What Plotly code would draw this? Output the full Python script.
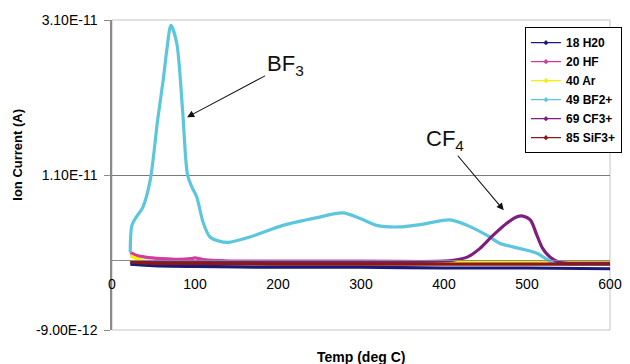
import plotly.graph_objects as go

# ---------------- data (ion current in units of 1e-11 A) ----------------
UNIT = 1e-11

temp_h2o = [22, 50, 100, 200, 300, 400, 500, 600]
h2o = [-0.05, -0.07, -0.08, -0.09, -0.09, -0.10, -0.10, -0.11]

temp_hf = [22, 30, 40, 60, 80, 95, 100, 110, 150, 200, 300, 400, 500, 600]
hf = [0.10, 0.06, 0.04, 0.02, 0.01, 0.02, 0.03, 0.01, -0.01, -0.01, -0.01, -0.02, -0.02, -0.02]

temp_ar = [22, 28, 35, 45, 60, 100, 200, 300, 400, 500, 600]
ar = [0.06, 0.03, 0.00, -0.02, -0.03, -0.03, -0.03, -0.03, -0.03, -0.03, -0.03]

temp_bf2 = [22, 24, 30, 37, 46, 55, 62, 66, 71, 78, 85, 91, 96, 102, 110, 118, 128, 140,
            166, 206, 247, 278, 299, 319, 347, 371, 407, 428, 452, 467, 492, 512, 531,
            550, 575, 600]
bf2 = [0.10, 0.45, 0.57, 0.68, 1.03, 1.81, 2.35, 2.71, 3.03, 2.80, 1.94, 1.10, 0.95, 0.82,
       0.48, 0.30, 0.25, 0.23, 0.30, 0.45, 0.55, 0.61, 0.54, 0.45, 0.43, 0.46, 0.52, 0.45,
       0.32, 0.22, 0.15, 0.09, -0.03, -0.05, -0.05, -0.05]

temp_cf3 = [22, 100, 200, 300, 400, 411, 428, 443, 459, 476, 488, 495, 504, 512, 519, 528,
            540, 570, 600]
cf3 = [-0.02, -0.02, -0.02, -0.02, -0.01, 0.00, 0.04, 0.15, 0.32, 0.48, 0.56, 0.57, 0.52,
       0.32, 0.15, 0.04, -0.03, -0.04, -0.04]

temp_sif3 = [22, 50, 100, 200, 300, 400, 500, 600]
sif3 = [-0.02, -0.04, -0.04, -0.05, -0.05, -0.05, -0.05, -0.05]

series_names = ["18 H20", "20 HF", "40 Ar", "49 BF2+", "69 CF3+", "85 SiF3+"]
series_x = [temp_h2o, temp_hf, temp_ar, temp_bf2, temp_cf3, temp_sif3]
series_y = [h2o, hf, ar, bf2, cf3, sif3]
series_colors = ["#1c1c78", "#d23c9c", "#f5f000", "#5cc6dc", "#7d1f80", "#8a1818"]

y_tickvals = [-0.9, 1.1, 3.1]
y_ticktext = ["-9.00E-12", "1.10E-11", "3.10E-11"]
x_tickvals = [0, 100, 200, 300, 400, 500, 600]

FONT = "Liberation Sans, Arial, sans-serif"

fig = go.Figure()
for name, xs, ys, col in zip(series_names, series_x, series_y, series_colors):
    fig.add_trace(go.Scatter(
        x=xs, y=[v * UNIT for v in ys], mode="lines", name=name,
        line=dict(color=col, width=3.2, shape="spline", smoothing=0.8),
        showlegend=False, hoverinfo="skip"))
# legend-only entries (thin line + small marker like the original)
for name, col in zip(series_names, series_colors):
    fig.add_trace(go.Scatter(
        x=[None], y=[None], mode="lines+markers", name=name,
        line=dict(color=col, width=1.2),
        marker=dict(color=col, size=4, symbol="diamond")))

# page body has an 8px margin, so the figure is 8px smaller than the window
fig.update_layout(
    width=622, height=356,
    margin=dict(l=104, r=20, t=12, b=34, autoexpand=False),
    paper_bgcolor="white", plot_bgcolor="white",
    font=dict(family=FONT, color="#000"),
    showlegend=True,
    legend=dict(x=1.024, xanchor="right", y=0.977, yanchor="top",
                bgcolor="white", bordercolor="#000", borderwidth=1,
                font=dict(family=FONT, size=12, color="#000", weight="bold"),
                tracegroupgap=0, itemwidth=30),
    xaxis=dict(range=[0, 600], tickvals=x_tickvals, showgrid=False, zeroline=False,
               anchor="free", position=0.225, showline=True, linecolor="#8a8a8a",
               linewidth=1, ticks="", ticklabelstandoff=11, automargin=False,
               tickfont=dict(family=FONT, size=14, color="#000")),
    yaxis=dict(range=[-0.9 * UNIT, 3.1 * UNIT], tickvals=[v * UNIT for v in y_tickvals],
               ticktext=y_ticktext, showgrid=True, gridcolor="#7a7a7a", gridwidth=1.3,
               zeroline=False, showline=True, linecolor="#8a8a8a", linewidth=1.5,
               ticks="outside", ticklen=6, tickcolor="#8a8a8a", ticklabelstandoff=4,
               automargin=False,
               tickfont=dict(family=FONT, size=14, color="#000")),
    shapes=[dict(type="rect", xref="paper", yref="paper", x0=0, x1=1, y0=0, y1=1,
                 line=dict(color="#c4c4c4", width=1), layer="below")],
)

annotations = [
    dict(text="Ion Current (A)", xref="paper", yref="paper", x=-0.189, y=0.565,
         xanchor="center", yanchor="middle", textangle=-90, showarrow=False,
         font=dict(family=FONT, size=13, color="#000", weight="bold")),
    dict(text="Temp (deg C)", xref="paper", yref="paper", x=0.5, y=-0.087,
         xanchor="center", yanchor="middle",
         showarrow=False, font=dict(family=FONT, size=14, color="#000", weight="bold")),
    dict(text="BF<sub>3</sub>", xref="x", yref="y", x=90.4, y=1.845 * UNIT, ax=98, ay=-52,
         showarrow=True, arrowhead=2, arrowsize=1.3, arrowwidth=1.1, arrowcolor="#111",
         standoff=0, font=dict(family=FONT, size=22, color="#111")),
    dict(text="CF<sub>4</sub>", xref="x", yref="y", x=472, y=0.645 * UNIT, ax=-59, ay=-70,
         showarrow=True, arrowhead=2, arrowsize=1.3, arrowwidth=1.1, arrowcolor="#111",
         standoff=0, font=dict(family=FONT, size=22, color="#111")),
]
fig.update_layout(annotations=annotations)

fig.write_html("out.html")
